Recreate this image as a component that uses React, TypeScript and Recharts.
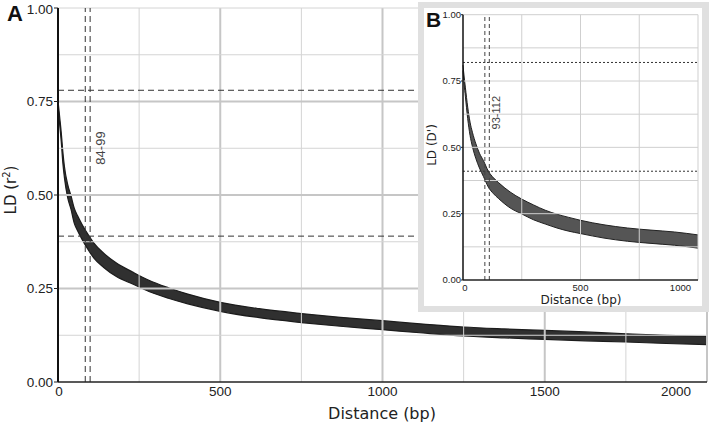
import React from 'react'
import { ComposedChart, Area, XAxis, YAxis, ReferenceLine } from 'recharts'

// main panel (A): LD r^2 vs distance
const mainDistance = [0, 5, 10, 15, 20, 30, 40, 50, 60, 75, 90, 110, 140, 180, 230, 280, 340, 400, 500, 620, 750, 870, 1000, 1125, 1250, 1375, 1500, 1625, 1750, 1875, 2000]
const mainHigh = [0.752, 0.71, 0.667, 0.615, 0.575, 0.528, 0.498, 0.465, 0.445, 0.42, 0.398, 0.372, 0.345, 0.318, 0.294, 0.272, 0.252, 0.235, 0.213, 0.196, 0.183, 0.173, 0.164, 0.155, 0.147, 0.142, 0.138, 0.134, 0.129, 0.125, 0.122]
const mainLow = [0.738, 0.69, 0.643, 0.585, 0.545, 0.492, 0.462, 0.425, 0.405, 0.38, 0.358, 0.332, 0.307, 0.282, 0.262, 0.242, 0.224, 0.209, 0.189, 0.172, 0.159, 0.149, 0.14, 0.131, 0.123, 0.118, 0.114, 0.11, 0.107, 0.103, 0.1]

// inset panel (B): LD D' vs distance
const insetDistance = [0, 5, 10, 20, 30, 40, 55, 70, 87, 108, 130, 150, 200, 250, 300, 350, 400, 450, 500, 600, 700, 800, 900, 1000]
const insetHigh = [0.81, 0.765, 0.727, 0.652, 0.595, 0.557, 0.513, 0.478, 0.45, 0.41, 0.385, 0.368, 0.332, 0.305, 0.283, 0.263, 0.248, 0.236, 0.225, 0.208, 0.196, 0.188, 0.181, 0.17]
const insetLow = [0.79, 0.735, 0.693, 0.608, 0.545, 0.503, 0.457, 0.422, 0.39, 0.35, 0.325, 0.308, 0.272, 0.249, 0.227, 0.211, 0.196, 0.184, 0.175, 0.158, 0.146, 0.138, 0.131, 0.12]

const mainXTicks = [0, 500, 1000, 1500, 2000]
const mainXMajor = [500, 1000, 1500, 2000]
const mainXMinor = [250, 750, 1250, 1750]
const insetXTicks = [0, 500, 1000]
const insetXGrid = [250, 500, 750, 1000]
const yTicks = [0, 0.25, 0.5, 0.75, 1]
const yMajor = [0.25, 0.5, 0.75]
const yMinor = [0.125, 0.375, 0.625, 0.875, 1]

const mainHalfLD = [0.78, 0.39]
const mainHalfDist = [84, 99]
const insetHalfLD = [0.82, 0.41]
const insetHalfDist = [93, 112]

const buildRows = (d: number[], lo: number[], hi: number[]) =>
  d.map((x, i) => ({ d: x, band: [lo[i], hi[i]] }))

const mainRows = buildRows(mainDistance, mainLow, mainHigh)
const insetRows = buildRows(insetDistance, insetLow, insetHigh)

const makeXTick = (last: number, size: number, dy: number, firstShift: number) => (props: any) => {
  const v = props.payload.value
  const anchor = v === last ? 'end' : 'middle'
  const x = v === last ? props.x - 2 : v === 0 ? props.x + firstShift : props.x
  return (
    <text x={x} y={props.y + dy} textAnchor={anchor} fontSize={size} fill="#222" fontFamily="Liberation Sans, Arial, sans-serif">
      {v}
    </text>
  )
}

const makeYTick = (size: number) => (props: any) => (
  <text x={props.x} y={props.y} dy={size * 0.36} textAnchor="end" fontSize={size} fill="#222" fontFamily="Liberation Sans, Arial, sans-serif">
    {Number(props.payload.value).toFixed(2)}
  </text>
)

export default function App() {
  return (
    <div style={{ position: 'absolute', left: 0, top: 0, width: 709, height: 423, background: '#fff' }}>
      <ComposedChart width={709} height={423} data={mainRows} margin={{ top: 8, right: 2, bottom: 3, left: 8 }}>
        <XAxis
          type="number"
          dataKey="d"
          domain={[0, 2000]}
          ticks={mainXTicks}
          tickSize={0}
          tickMargin={0}
          tickLine={false}
          height={38}
          axisLine={{ stroke: '#222', strokeWidth: 1.5 }}
          tick={makeXTick(2000, 13.5, 14, 1)}
          label={{
            content: () => (
              <text x={382} y={419} textAnchor="middle" fontSize={16} fill="#222" fontFamily="DejaVu Sans, sans-serif">
                Distance (bp)
              </text>
            ),
          }}
        />
        <YAxis
          type="number"
          domain={[0, 1]}
          ticks={yTicks}
          width={50}
          tickSize={4}
          tickMargin={1}
          tickLine={{ stroke: '#222' }}
          axisLine={{ stroke: '#111', strokeWidth: 2 }}
          tick={makeYTick(13.5)}
          label={{
            content: () => (
              <text transform="translate(16,190) rotate(-90)" textAnchor="middle" fontSize={15} fill="#222" fontFamily="DejaVu Sans, sans-serif">
                LD (r<tspan dy={-6} fontSize={10}>2</tspan><tspan dy={6}>)</tspan>
              </text>
            ),
          }}
        />
        {mainXMinor.map((x) => <ReferenceLine key={'xm' + x} x={x} stroke="#d4d4d4" strokeWidth={1} />)}
        {mainXMajor.map((x) => <ReferenceLine key={'xM' + x} x={x} stroke="#c6c6c6" strokeWidth={2} />)}
        {yMinor.map((y) => <ReferenceLine key={'ym' + y} y={y} stroke="#d4d4d4" strokeWidth={1} />)}
        {yMajor.map((y) => <ReferenceLine key={'yM' + y} y={y} stroke="#c6c6c6" strokeWidth={2} />)}
        {mainHalfLD.map((y) => <ReferenceLine key={'hl' + y} y={y} stroke="#333" strokeWidth={1} strokeDasharray="6 4" />)}
        {mainHalfDist.map((x, i) => (
          <ReferenceLine
            key={'hd' + x}
            x={x}
            stroke="#333"
            strokeWidth={1}
            strokeDasharray="6 4"
            label={i === 1 ? {
              content: (p: any) => (
                <text transform={`translate(${p.viewBox.x + 15},${p.viewBox.y + 140}) rotate(-90)`} textAnchor="middle" fontSize={13} fill="#444" fontFamily="Liberation Sans, Arial, sans-serif">
                  {`${mainHalfDist[0]}-${mainHalfDist[1]}`}
                </text>
              ),
            } : undefined}
          />
        ))}
        <Area type="monotone" dataKey="band" stroke="#1c1c1c" strokeWidth={1.2} fill="#303030" fillOpacity={1} isAnimationActive={false} />
      </ComposedChart>

      <div style={{ position: 'absolute', left: 418, top: 2, width: 291, height: 310, boxSizing: 'border-box', border: '6px solid #e0e0e0', borderRight: 'none', background: '#fff' }} />
      <div style={{ position: 'absolute', left: 702, top: 2, width: 7, height: 310, background: '#e0e0e0' }} />
      <div style={{ position: 'absolute', left: 418, top: 2 }}>
        <ComposedChart width={291} height={310} data={insetRows} margin={{ top: 12.7, right: 11, bottom: 2, left: 5 }}>
          <XAxis
            type="number"
            dataKey="d"
            domain={[0, 1000]}
            ticks={insetXTicks}
            tickSize={0}
            tickMargin={0}
            tickLine={false}
            height={30}
            axisLine={{ stroke: '#222', strokeWidth: 1.5 }}
            tick={makeXTick(1000, 9.5, 10.5, 2)}
            label={{
              content: () => (
                <text x={163} y={301.5} textAnchor="middle" fontSize={12} fill="#222" fontFamily="DejaVu Sans, sans-serif">
                  Distance (bp)
                </text>
              ),
            }}
          />
          <YAxis
            type="number"
            domain={[0, 1]}
            ticks={yTicks}
            width={40}
            tickSize={2}
            tickMargin={0}
            tickLine={{ stroke: '#222' }}
            axisLine={{ stroke: '#111', strokeWidth: 1.5 }}
            tick={makeYTick(9.5)}
            label={{
              content: () => (
                <text transform="translate(18,143) rotate(-90)" textAnchor="middle" fontSize={12} fill="#222" fontFamily="DejaVu Sans, sans-serif">
                  LD (D')
                </text>
              ),
            }}
          />
          {insetXGrid.map((x) => <ReferenceLine key={'ix' + x} x={x} stroke="#cfcfcf" strokeWidth={1} />)}
          {yMinor.concat(yMajor).map((y) => <ReferenceLine key={'iy' + y} y={y} stroke="#cfcfcf" strokeWidth={1} />)}
          {insetHalfLD.map((y) => <ReferenceLine key={'ihl' + y} y={y} stroke="#333" strokeWidth={1} strokeDasharray="2 2" />)}
          {insetHalfDist.map((x, i) => (
            <ReferenceLine
              key={'ihd' + x}
              x={x}
              stroke="#444"
              strokeWidth={1}
              strokeDasharray="4 3"
              label={i === 1 ? {
                content: (p: any) => (
                  <text transform={`translate(${p.viewBox.x + 11},${p.viewBox.y + 98}) rotate(-90)`} textAnchor="middle" fontSize={11} fill="#444" fontFamily="Liberation Sans, Arial, sans-serif">
                    {`${insetHalfDist[0]}-${insetHalfDist[1]}`}
                  </text>
                ),
              } : undefined}
            />
          ))}
          <Area type="monotone" dataKey="band" stroke="#222" strokeWidth={1} fill="#555" fillOpacity={1} isAnimationActive={false} />
        </ComposedChart>
      </div>

      <svg width={709} height={423} style={{ position: 'absolute', left: 0, top: 0, pointerEvents: 'none' }}>
        <text x={7} y={21} fontSize={22} fontWeight="bold" fill="#111" fontFamily="Liberation Sans, Arial, sans-serif">A</text>
        <text x={426} y={27} fontSize={21} fontWeight="bold" fill="#111" fontFamily="Liberation Sans, Arial, sans-serif">B</text>
      </svg>
    </div>
  )
}
